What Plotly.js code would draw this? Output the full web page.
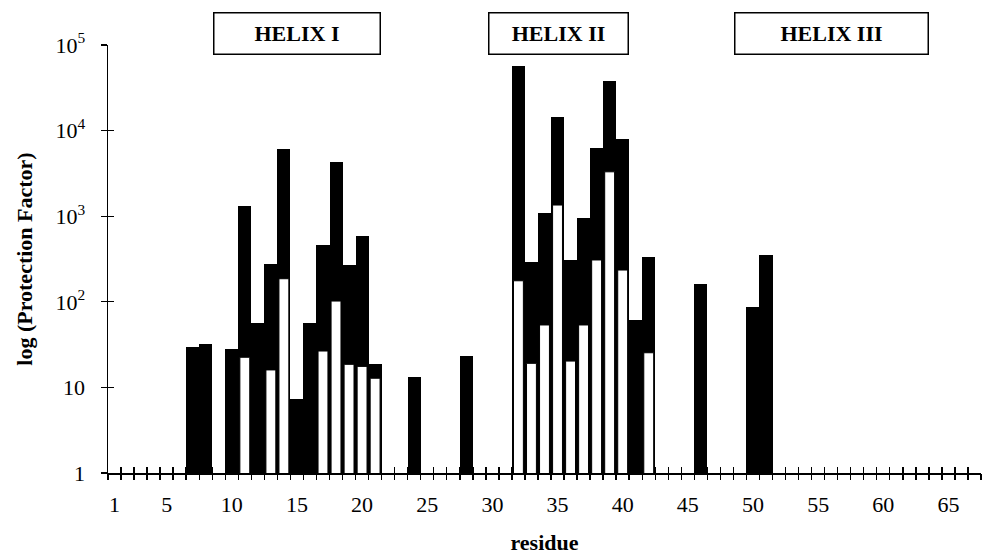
<!DOCTYPE html>
<html>
<head>
<meta charset="utf-8">
<script src="https://cdn.plot.ly/plotly-3.0.1.min.js"></script>
<style>
  html, body { margin: 0; padding: 0; background: #fff; }
  #chart { width: 989px; height: 555px; }
</style>
</head>
<body>
<div id="chart"></div>
<script>
// Residues with measured amide protection factors
var residues = [7, 8, 10, 11, 12, 13, 14, 15, 16, 17, 18, 19, 20, 21, 24, 28,
                32, 33, 34, 35, 36, 37, 38, 39, 40, 41, 42, 46, 50, 51];

// Black bars: protection factor, first condition
var pfBlack = [30, 32, 28, 1300, 56, 280, 6100, 7.3, 56, 465, 4300, 270, 590, 18.6, 13.3, 23.3,
               57000, 294, 1080, 14500, 308, 945, 6300, 38000, 8000, 61, 336, 161, 88, 349];

// White bars: protection factor, second condition (null = not determined)
var pfWhite = [null, null, null, 22.5, null, 16, 186, null, null, 26.6, 102, 18.6, 17.6, 12.8, null, null,
               176, 19.1, 53.6, 1350, 20.3, 53.6, 308, 3300, 235, null, 25.4, null, null, null];

// Axis tick labels
var xTickVals = [1, 5, 10, 15, 20, 25, 30, 35, 40, 45, 50, 55, 60, 65];
var yTickVals = [1, 10, 100, 1000, 10000, 100000];
var yTickText = ['1', '10', '10<sup>2</sup>', '10<sup>3</sup>', '10<sup>4</sup>', '10<sup>5</sup>'];

// Helix labels
var helixNames = ['HELIX I', 'HELIX II', 'HELIX III'];

var nResidues = 67;
var boundaries = [];
for (var i = 0; i <= nResidues; i++) boundaries.push(i + 0.5);

var serif = 'Liberation Serif, Times New Roman, serif';

var traces = [
  {
    type: 'bar', x: residues, y: pfBlack, width: 1.0,
    marker: { color: '#000000', line: { width: 0 } },
    hoverinfo: 'x+y', showlegend: false
  },
  {
    type: 'bar', x: residues, y: pfWhite, width: 0.76,
    marker: { color: '#ffffff', line: { color: '#000000', width: 1 } },
    hoverinfo: 'x+y', showlegend: false
  },
  // empty traces so the overlaid tick-only axes get drawn (crossing tick marks)
  { type: 'scatter', x: [], y: [], xaxis: 'x2', yaxis: 'y', showlegend: false, hoverinfo: 'skip' },
  { type: 'scatter', x: [], y: [], xaxis: 'x3', yaxis: 'y', showlegend: false, hoverinfo: 'skip' },
  { type: 'scatter', x: [], y: [], xaxis: 'x', yaxis: 'y2', showlegend: false, hoverinfo: 'skip' }
];

var tickAxis = function (dir) {
  return {
    overlaying: 'x', anchor: 'y', range: [0.5, nResidues + 0.5],
    tickmode: 'array', tickvals: boundaries, ticks: dir, ticklen: 6,
    tickwidth: 1.4, tickcolor: '#000', showticklabels: false,
    showgrid: false, zeroline: false, showline: false, fixedrange: true
  };
};

var helixBox = function (name, xc, w) {
  return {
    xref: 'x', yref: 'paper', x: xc, y: 1.028, xanchor: 'center', yanchor: 'middle',
    text: '<b>' + name + '</b>', showarrow: false,
    font: { family: serif, size: 22, color: '#000' },
    bordercolor: '#000', borderwidth: 1.5, borderpad: 0,
    width: w, height: 40, bgcolor: '#fff'
  };
};

var layout = {
  width: 989, height: 555,
  margin: { l: 108, r: 8, t: 45, b: 82 },
  paper_bgcolor: '#fff', plot_bgcolor: '#fff',
  barmode: 'overlay', bargap: 0,
  font: { family: serif, color: '#000' },
  xaxis: {
    range: [0.5, nResidues + 0.5], tickmode: 'array', tickvals: xTickVals,
    ticks: '', ticklabelstandoff: 11,
    tickfont: { family: serif, size: 22, color: '#000' },
    showgrid: false, zeroline: false, showline: true, linecolor: '#000', linewidth: 1.5,
    title: { text: '<b>residue</b>', font: { family: serif, size: 22, color: '#000' }, standoff: 24 },
    fixedrange: true
  },
  xaxis2: tickAxis('outside'),
  xaxis3: tickAxis('inside'),
  yaxis: {
    type: 'log', range: [0, 5], tickmode: 'array', tickvals: yTickVals, ticktext: yTickText,
    ticks: 'outside', ticklen: 6, tickwidth: 1.4, tickcolor: '#000', ticklabelstandoff: 11,
    tickfont: { family: serif, size: 22, color: '#000' },
    showgrid: false, zeroline: false, showline: true, linecolor: '#000', linewidth: 1.5,
    title: { text: '<b>log (Protection Factor)</b>', font: { family: serif, size: 22, color: '#000' }, standoff: 16 },
    fixedrange: true
  },
  yaxis2: {
    type: 'log', range: [0, 5], overlaying: 'y', anchor: 'x', side: 'left',
    tickmode: 'array', tickvals: yTickVals, ticks: 'inside', ticklen: 6, tickwidth: 1.4, tickcolor: '#000',
    showticklabels: false, showgrid: false, zeroline: false, showline: false, fixedrange: true
  },
  annotations: [
    helixBox(helixNames[0], 15, 165),
    helixBox(helixNames[1], 35.1, 138),
    helixBox(helixNames[2], 56, 192)
  ]
};

Plotly.newPlot('chart', traces, layout, { staticPlot: true, displayModeBar: false });
</script>
</body>
</html>
